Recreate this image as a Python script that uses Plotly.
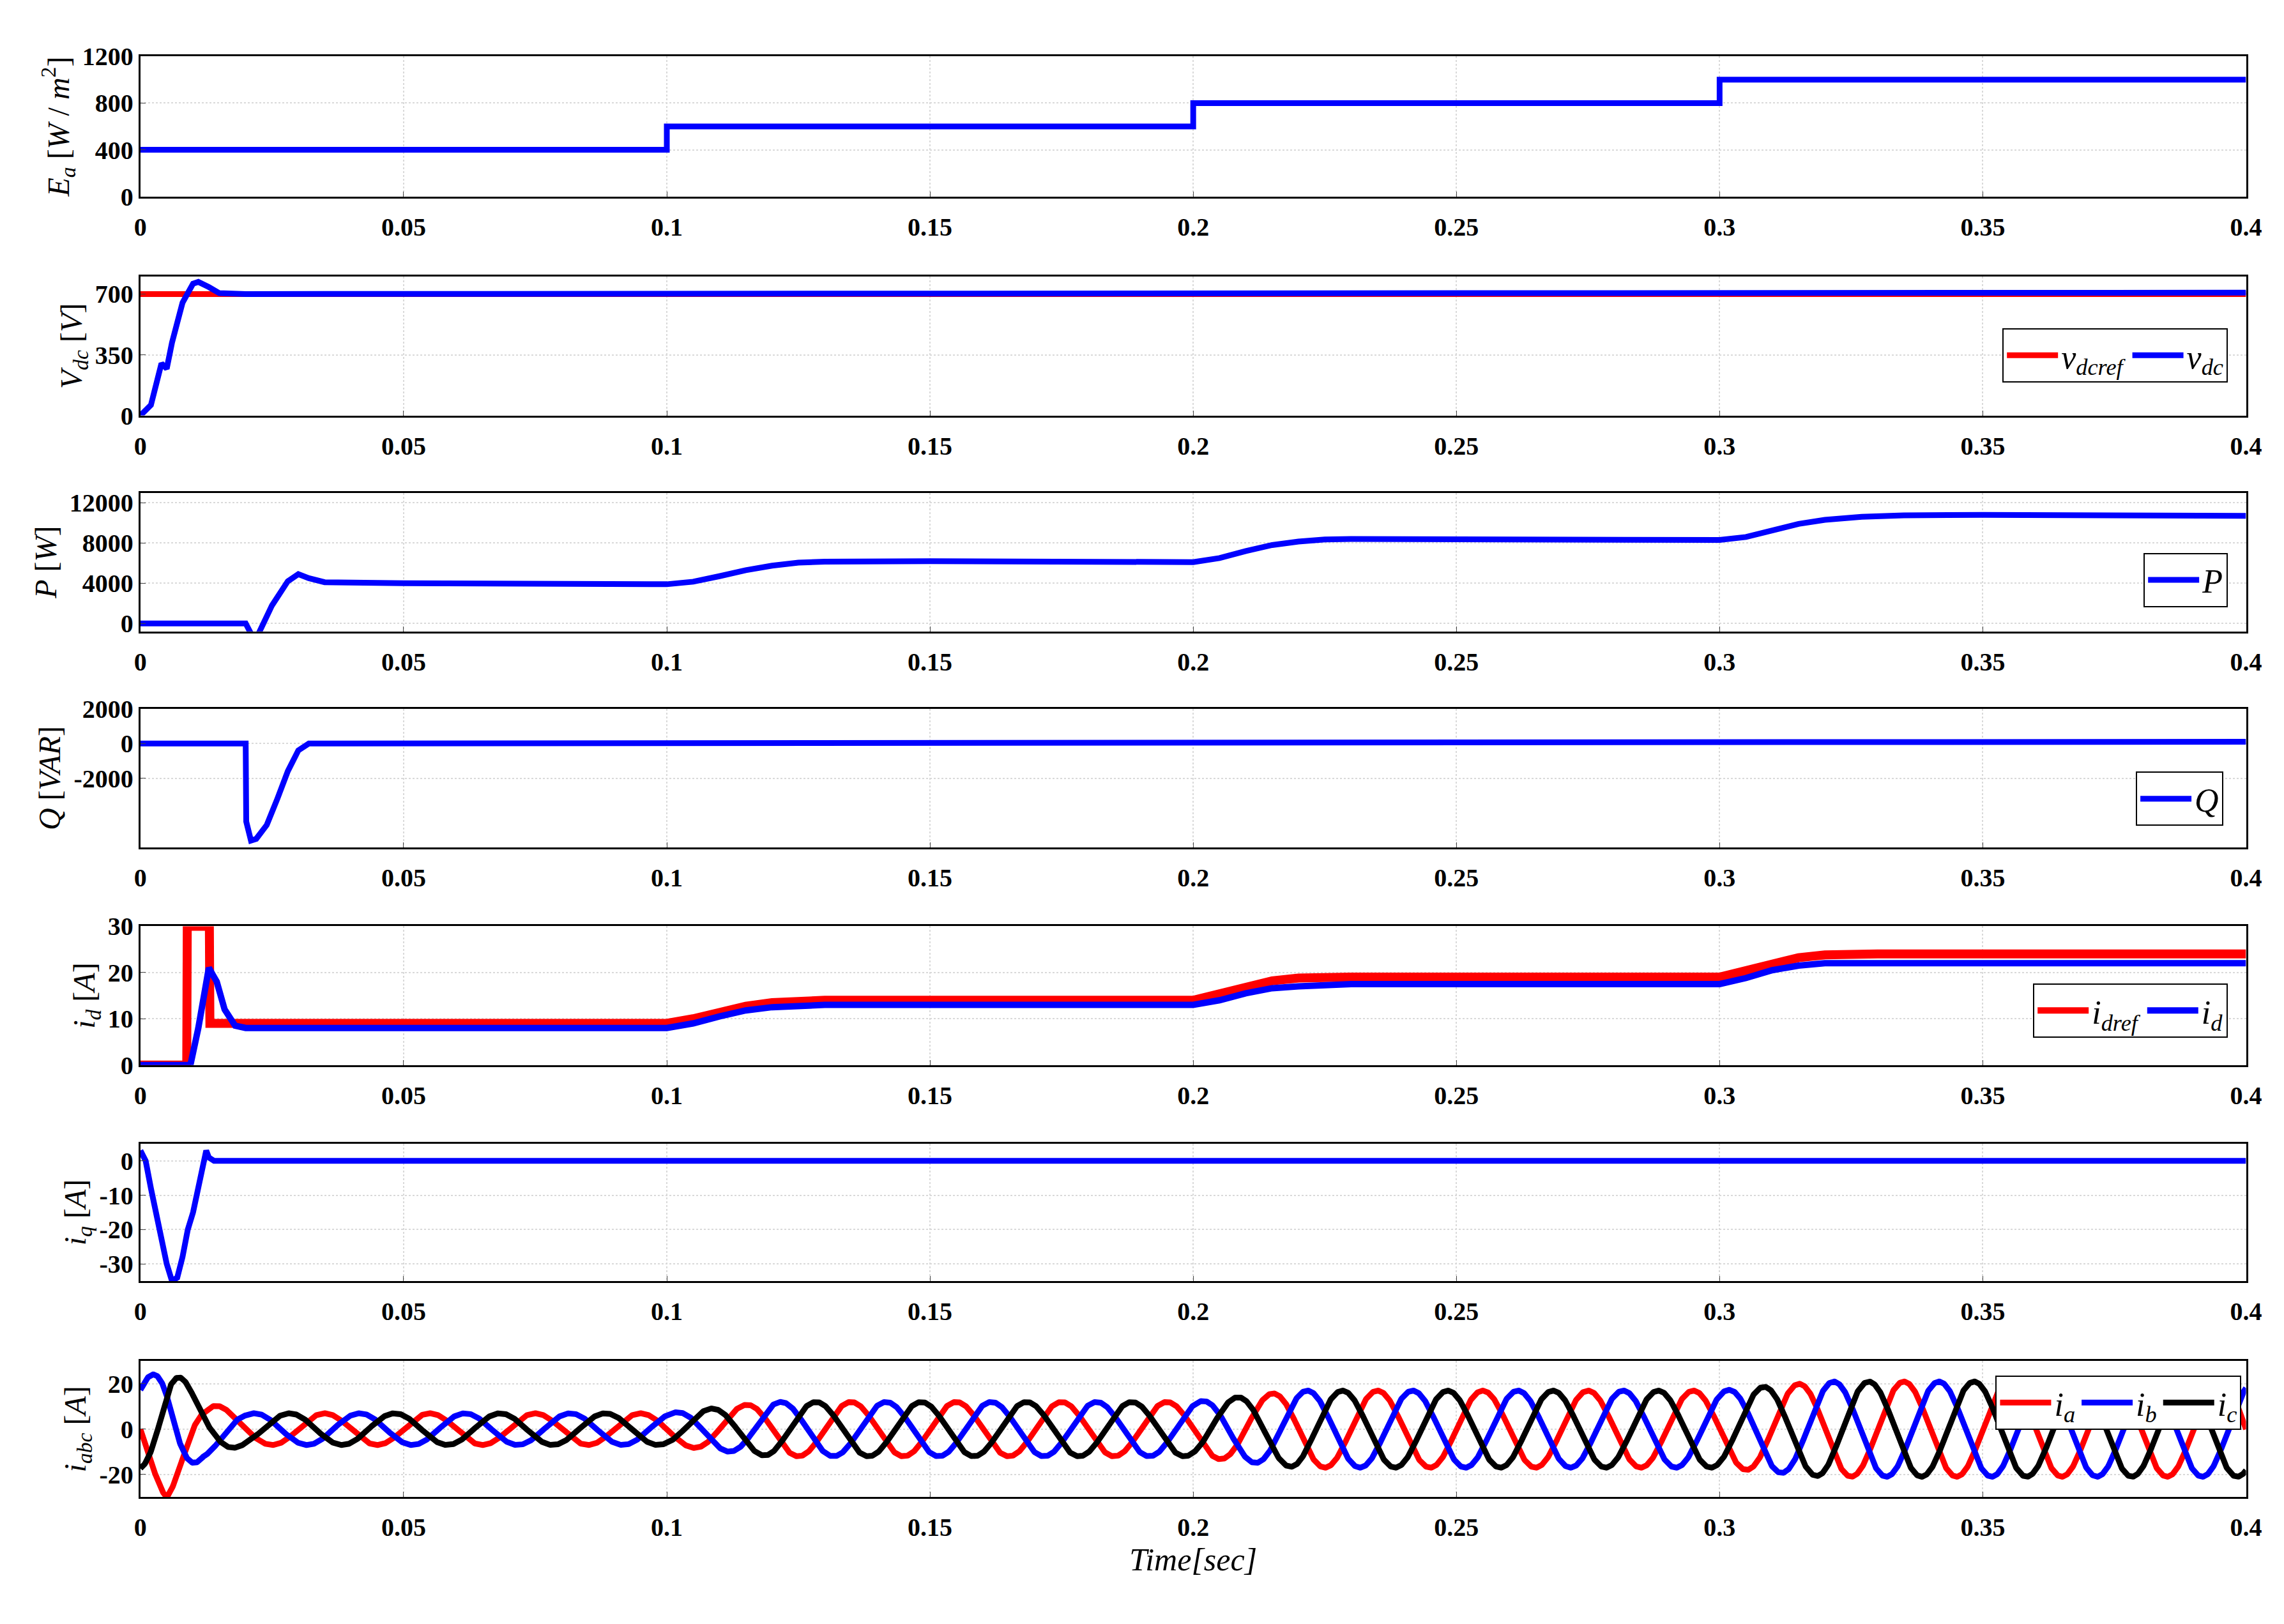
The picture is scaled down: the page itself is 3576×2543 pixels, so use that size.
import numpy as np
import plotly.graph_objects as go

# ---- data ----
t_E = [0, 0.1, 0.1, 0.2, 0.2, 0.3, 0.3, 0.4]
E = [400, 400, 600, 600, 800, 800, 1000, 1000]

t_vref = [0, 0.4]; vref = [700, 700]
t_vdc = [0, 0.002, 0.004, 0.005, 0.006, 0.008, 0.010, 0.011, 0.013, 0.015, 0.02, 0.3, 0.4]
vdc = [0, 60, 300, 270, 420, 650, 760, 770, 740, 705, 700, 705, 708]

t_P = [0, 0.02, 0.021, 0.022, 0.025, 0.028, 0.030, 0.032, 0.035, 0.05, 0.1, 0.105, 0.11, 0.115, 0.12, 0.125, 0.13, 0.15, 0.2,
       0.205, 0.21, 0.215, 0.22, 0.225, 0.23, 0.25, 0.3, 0.305, 0.31, 0.315, 0.32, 0.327, 0.335, 0.35, 0.4]
P = [0, 0, -1000, -1500, 1800, 4200, 4900, 4500, 4100, 4000, 3900, 4150, 4700, 5300, 5750, 6050, 6150, 6200, 6100,
     6500, 7200, 7800, 8150, 8350, 8400, 8400, 8300, 8600, 9300, 9900, 10300, 10600, 10750, 10800, 10700]

t_Q = [0, 0.02, 0.0201, 0.021, 0.022, 0.024, 0.026, 0.028, 0.030, 0.032, 0.035, 0.4]
Q = [0, 0, -4500, -5600, -5500, -4700, -3200, -1600, -400, 0, 0, 100]

t_idref = [0, 0.0088, 0.0089, 0.0131, 0.0132, 0.02, 0.1, 0.105, 0.11, 0.115, 0.12, 0.13, 0.2, 0.205, 0.21, 0.215, 0.22, 0.23, 0.3, 0.305, 0.31, 0.315, 0.32, 0.33, 0.4]
idref = [0, 0, 30, 30, 9, 9, 9, 10, 11.5, 12.7, 13.5, 14, 14, 15.3, 17, 18.2, 18.8, 19, 19, 20.3, 22, 23.2, 23.8, 24, 24]
t_id = [0, 0.0095, 0.011, 0.0125, 0.013, 0.0145, 0.016, 0.018, 0.02, 0.1, 0.105, 0.11, 0.115, 0.12, 0.13, 0.2, 0.205, 0.21, 0.215, 0.22, 0.23, 0.3, 0.305, 0.31, 0.315, 0.32, 0.33, 0.4]
idv = [0, 0, 8, 19, 21, 18, 12, 8.5, 8, 8, 9, 10.5, 11.8, 12.5, 13, 13, 14, 15.5, 16.6, 17, 17.5, 17.5, 18.8, 20.5, 21.5, 22, 22, 22]

t_iq = [0, 0.001, 0.002, 0.003, 0.004, 0.005, 0.006, 0.007, 0.008, 0.009, 0.010, 0.011, 0.012, 0.0125, 0.013, 0.014, 0.4]
iq = [3, 0, -8, -16, -22, -30, -35, -34, -28, -20, -15, -8, -2, 3, 1, 0, 0]

# three-phase current amplitudes per interval
amp_t = [0, 0.005, 0.012, 0.02, 0.1, 0.12, 0.2, 0.22, 0.3, 0.32, 0.4]
amp = [20, 30, 12, 7, 7, 12, 12, 17, 17, 21, 21]
f_grid = 50

ticks_x = [0, 0.05, 0.1, 0.15, 0.2, 0.25, 0.3, 0.35, 0.4]
tick_txt = ['0', '0.05', '0.1', '0.15', '0.2', '0.25', '0.3', '0.35', '0.4']

RED = '#ff0000'; BLUE = '#0000ff'; BLACK = '#000000'
FONT = 'Liberation Serif'
W, H = 3576, 2543
X0, X1 = 0.057, 0.988
rows = [(26, 124), (180, 277), (331, 428), (482, 579), (634, 731), (786, 882), (938, 1033)]
doms = [(1 - b / 1115, 1 - a / 1115) for a, b in rows]

fig = go.Figure()
LW = 9

def add(i, x, y, color, name=None, legend=None, width=LW):
    ax = '' if i == 0 else str(i + 1)
    fig.add_trace(go.Scatter(x=x, y=y, mode='lines', line=dict(color=color, width=width),
                             name=name or '', showlegend=legend is not None,
                             legend=legend, xaxis='x' + ax, yaxis='y' + ax))

add(0, t_E, E, BLUE)
add(1, t_vref, vref, RED, '<i>v<sub>dcref</sub></i>', 'legend')
add(1, t_vdc, vdc, BLUE, '<i>v<sub>dc</sub></i>', 'legend')
add(2, t_P, P, BLUE, '<i>P</i>', 'legend2')
add(3, t_Q, Q, BLUE, '<i>Q</i>', 'legend3')
add(4, t_idref, idref, RED, '<i>i<sub>dref</sub></i>', 'legend4', width=14)
add(4, t_id, idv, BLUE, '<i>i<sub>d</sub></i>', 'legend4', width=10)
add(5, t_iq, iq, BLUE)

t = np.linspace(0, 0.4, 4001)
A = np.interp(t, amp_t, amp)
w = 2 * np.pi * f_grid
ia = -A * np.sin(w * t)
ib = -A * np.sin(w * t - 2 * np.pi / 3)
ic = -A * np.sin(w * t + 2 * np.pi / 3)
add(6, t, ia, RED, '<i>i<sub>a</sub></i>', 'legend5')
add(6, t, ib, BLUE, '<i>i<sub>b</sub></i>', 'legend5')
add(6, t, ic, BLACK, '<i>i<sub>c</sub></i>', 'legend5')

yspecs = [
    ('<i>E<sub>a</sub></i> [<i>W</i> / <i>m</i><sup>2</sup>]', [0, 1200], [0, 400, 800, 1200]),
    ('<i>V<sub>dc</sub></i> [<i>V</i>]', [0, 800], [0, 350, 700]),
    ('<i>P</i> [<i>W</i>]', [-800, 13000], [0, 4000, 8000, 12000]),
    ('<i>Q</i> [<i>VAR</i>]', [-6000, 2000], [-2000, 0, 2000]),
    ('<i>i<sub>d</sub></i> [<i>A</i>]', [0, 30], [0, 10, 20, 30]),
    ('<i>i<sub>q</sub></i> [<i>A</i>]', [-35, 5], [-30, -20, -10, 0]),
    ('<i>i<sub>abc</sub></i> [<i>A</i>]', [-30, 30], [-20, 0, 20]),
]
tf = dict(family=FONT, size=40, color='black')
layout = {}
for i, (title, rng, tv) in enumerate(yspecs):
    ax = '' if i == 0 else str(i + 1)
    layout['xaxis' + ax] = dict(domain=[X0, X1], anchor='y' + ax, range=[0, 0.4], tickvals=ticks_x,
                                ticktext=['<b>%s</b>' % s for s in tick_txt], tickfont=tf,
                                showline=True, mirror=True, linecolor='black', linewidth=3,
                                showgrid=True, gridcolor='#d9d9d9', gridwidth=2, griddash='dot',
                                ticks='inside', ticklen=8, zeroline=False, ticklabelstandoff=10)
    layout['yaxis' + ax] = dict(domain=list(doms[i]), anchor='x' + ax, range=rng, tickvals=tv,
                                ticktext=['<b>%s</b>' % v for v in tv], tickfont=tf,
                                title=dict(text=title, font=dict(family=FONT, size=48, color='black'), standoff=6),
                                showline=True, mirror=True, linecolor='black', linewidth=3,
                                showgrid=True, gridcolor='#d9d9d9', gridwidth=2, griddash='dot',
                                ticks='inside', ticklen=8, zeroline=False)
layout['xaxis7']['title'] = dict(text='<i>Time[sec]</i>', font=dict(family=FONT, size=50, color='black'), standoff=8)

def leg(x, y):
    return dict(x=x, y=y, xanchor='right', yanchor='middle', orientation='h',
                bgcolor='white', bordercolor='black', borderwidth=2,
                font=dict(family=FONT, size=52, color='black'), itemwidth=80, traceorder='normal')

fig.update_layout(
    width=W, height=H, paper_bgcolor='white', plot_bgcolor='white',
    margin=dict(l=0, r=0, t=0, b=0), showlegend=True,
    legend=leg(0.98, 1 - 235 / 1115), legend2=leg(0.98, 1 - 392 / 1115),
    legend3=leg(0.978, 1 - 545 / 1115), legend4=leg(0.98, 1 - 693 / 1115),
    legend5=leg(0.986, 1 - 967 / 1115),
    **layout)

fig.write_html('out.html')
